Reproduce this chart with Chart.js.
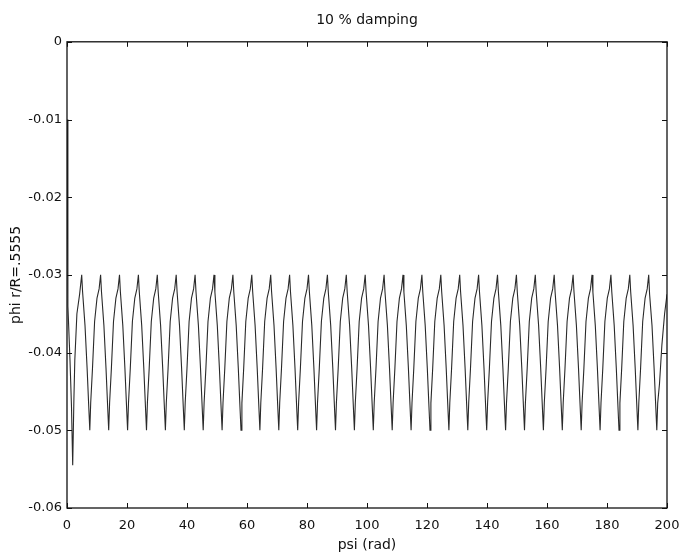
<!DOCTYPE html>
<html>
<head>
<meta charset="utf-8">
<script src="https://cdn.jsdelivr.net/npm/chart.js@4"></script>
<style>
  html, body { margin: 0; padding: 0; background: #fff; }
  canvas { display: block; }
</style>
</head>
<body>
<canvas id="chart" width="682" height="556"></canvas>
<script>
// 10 % damping: phi at r/R=.5555 against psi (rad)
// one row per cycle: peak, notch, fall, min spike, rise

const psi = [
  0, 0.3, 1.0, 1.5, 1.9, 2.3, 2.6, 3.3, 4.2,
  4.9, 5.2, 6.0, 6.7, 7.2, 7.6, 7.9, 8.5, 9.2, 10.0, 10.7,
  11.2, 11.5, 12.3, 13.0, 13.5, 13.9, 14.2, 14.8, 15.5, 16.3, 17.0,
  17.5, 17.8, 18.6, 19.3, 19.8, 20.2, 20.5, 21.1, 21.8, 22.6, 23.3,
  23.8, 24.1, 24.9, 25.6, 26.1, 26.5, 26.8, 27.4, 28.1, 28.9, 29.6,
  30.1, 30.4, 31.2, 31.9, 32.4, 32.8, 33.1, 33.7, 34.4, 35.2, 35.9,
  36.4, 36.7, 37.5, 38.2, 38.7, 39.1, 39.4, 40.0, 40.7, 41.5, 42.2,
  42.7, 43.0, 43.8, 44.5, 45.0, 45.4, 45.7, 46.3, 47.0, 47.8, 48.5,
  49.0, 49.3, 50.1, 50.8, 51.3, 51.7, 52.0, 52.6, 53.3, 54.1, 54.8,
  55.3, 55.6, 56.4, 57.1, 57.6, 58.0, 58.3, 58.9, 59.6, 60.4, 61.1,
  61.6, 61.9, 62.7, 63.4, 63.9, 64.3, 64.6, 65.2, 65.9, 66.7, 67.4,
  67.9, 68.2, 69.0, 69.7, 70.2, 70.6, 70.9, 71.5, 72.2, 73.0, 73.7,
  74.2, 74.5, 75.3, 76.0, 76.5, 76.9, 77.2, 77.8, 78.5, 79.3, 80.0,
  80.5, 80.8, 81.6, 82.3, 82.8, 83.2, 83.5, 84.1, 84.8, 85.6, 86.3,
  86.8, 87.1, 87.9, 88.6, 89.1, 89.5, 89.8, 90.4, 91.1, 91.9, 92.6,
  93.1, 93.4, 94.2, 94.9, 95.4, 95.8, 96.1, 96.7, 97.4, 98.2, 98.9,
  99.4, 99.7, 100.5, 101.2, 101.7, 102.1, 102.4, 103.0, 103.7, 104.5, 105.2,
  105.7, 106.0, 106.8, 107.5, 108.0, 108.4, 108.7, 109.3, 110.0, 110.8, 111.5,
  112.0, 112.3, 113.1, 113.8, 114.3, 114.7, 115.0, 115.6, 116.3, 117.1, 117.8,
  118.3, 118.6, 119.4, 120.1, 120.6, 121.0, 121.3, 121.9, 122.6, 123.4, 124.1,
  124.6, 124.9, 125.7, 126.4, 126.9, 127.3, 127.6, 128.2, 128.9, 129.7, 130.4,
  130.9, 131.2, 132.0, 132.7, 133.2, 133.6, 133.9, 134.5, 135.2, 136.0, 136.7,
  137.2, 137.5, 138.3, 139.0, 139.5, 139.9, 140.2, 140.8, 141.5, 142.3, 143.0,
  143.5, 143.8, 144.6, 145.3, 145.8, 146.2, 146.5, 147.1, 147.8, 148.6, 149.3,
  149.8, 150.1, 150.9, 151.6, 152.1, 152.5, 152.8, 153.4, 154.1, 154.9, 155.6,
  156.1, 156.4, 157.2, 157.9, 158.4, 158.8, 159.1, 159.7, 160.4, 161.2, 161.9,
  162.4, 162.7, 163.5, 164.2, 164.7, 165.1, 165.4, 166.0, 166.7, 167.5, 168.2,
  168.7, 169.0, 169.8, 170.5, 171.0, 171.4, 171.7, 172.3, 173.0, 173.8, 174.5,
  175.0, 175.3, 176.1, 176.8, 177.3, 177.7, 178.0, 178.6, 179.3, 180.1, 180.8,
  181.3, 181.6, 182.4, 183.1, 183.6, 184.0, 184.3, 184.9, 185.6, 186.4, 187.1,
  187.6, 187.9, 188.7, 189.4, 189.9, 190.3, 190.6, 191.2, 191.9, 192.7, 193.4,
  193.9, 194.2, 195.0, 195.7, 196.2, 196.6, 196.9, 197.5, 198.3, 199.2, 200.0
];

const phi = [
  -0.010, -0.034, -0.041, -0.047, -0.0545, -0.046, -0.041, -0.035, -0.0325,
  -0.030, -0.0322, -0.0365, -0.042, -0.0465, -0.050, -0.0465, -0.042, -0.036, -0.033, -0.0318,
  -0.030, -0.0322, -0.0365, -0.042, -0.0465, -0.050, -0.0465, -0.042, -0.036, -0.033, -0.0318,
  -0.030, -0.0322, -0.0365, -0.042, -0.0465, -0.050, -0.0465, -0.042, -0.036, -0.033, -0.0318,
  -0.030, -0.0322, -0.0365, -0.042, -0.0465, -0.050, -0.0465, -0.042, -0.036, -0.033, -0.0318,
  -0.030, -0.0322, -0.0365, -0.042, -0.0465, -0.050, -0.0465, -0.042, -0.036, -0.033, -0.0318,
  -0.030, -0.0322, -0.0365, -0.042, -0.0465, -0.050, -0.0465, -0.042, -0.036, -0.033, -0.0318,
  -0.030, -0.0322, -0.0365, -0.042, -0.0465, -0.050, -0.0465, -0.042, -0.036, -0.033, -0.0318,
  -0.030, -0.0322, -0.0365, -0.042, -0.0465, -0.050, -0.0465, -0.042, -0.036, -0.033, -0.0318,
  -0.030, -0.0322, -0.0365, -0.042, -0.0465, -0.050, -0.0465, -0.042, -0.036, -0.033, -0.0318,
  -0.030, -0.0322, -0.0365, -0.042, -0.0465, -0.050, -0.0465, -0.042, -0.036, -0.033, -0.0318,
  -0.030, -0.0322, -0.0365, -0.042, -0.0465, -0.050, -0.0465, -0.042, -0.036, -0.033, -0.0318,
  -0.030, -0.0322, -0.0365, -0.042, -0.0465, -0.050, -0.0465, -0.042, -0.036, -0.033, -0.0318,
  -0.030, -0.0322, -0.0365, -0.042, -0.0465, -0.050, -0.0465, -0.042, -0.036, -0.033, -0.0318,
  -0.030, -0.0322, -0.0365, -0.042, -0.0465, -0.050, -0.0465, -0.042, -0.036, -0.033, -0.0318,
  -0.030, -0.0322, -0.0365, -0.042, -0.0465, -0.050, -0.0465, -0.042, -0.036, -0.033, -0.0318,
  -0.030, -0.0322, -0.0365, -0.042, -0.0465, -0.050, -0.0465, -0.042, -0.036, -0.033, -0.0318,
  -0.030, -0.0322, -0.0365, -0.042, -0.0465, -0.050, -0.0465, -0.042, -0.036, -0.033, -0.0318,
  -0.030, -0.0322, -0.0365, -0.042, -0.0465, -0.050, -0.0465, -0.042, -0.036, -0.033, -0.0318,
  -0.030, -0.0322, -0.0365, -0.042, -0.0465, -0.050, -0.0465, -0.042, -0.036, -0.033, -0.0318,
  -0.030, -0.0322, -0.0365, -0.042, -0.0465, -0.050, -0.0465, -0.042, -0.036, -0.033, -0.0318,
  -0.030, -0.0322, -0.0365, -0.042, -0.0465, -0.050, -0.0465, -0.042, -0.036, -0.033, -0.0318,
  -0.030, -0.0322, -0.0365, -0.042, -0.0465, -0.050, -0.0465, -0.042, -0.036, -0.033, -0.0318,
  -0.030, -0.0322, -0.0365, -0.042, -0.0465, -0.050, -0.0465, -0.042, -0.036, -0.033, -0.0318,
  -0.030, -0.0322, -0.0365, -0.042, -0.0465, -0.050, -0.0465, -0.042, -0.036, -0.033, -0.0318,
  -0.030, -0.0322, -0.0365, -0.042, -0.0465, -0.050, -0.0465, -0.042, -0.036, -0.033, -0.0318,
  -0.030, -0.0322, -0.0365, -0.042, -0.0465, -0.050, -0.0465, -0.042, -0.036, -0.033, -0.0318,
  -0.030, -0.0322, -0.0365, -0.042, -0.0465, -0.050, -0.0465, -0.042, -0.036, -0.033, -0.0318,
  -0.030, -0.0322, -0.0365, -0.042, -0.0465, -0.050, -0.0465, -0.042, -0.036, -0.033, -0.0318,
  -0.030, -0.0322, -0.0365, -0.042, -0.0465, -0.050, -0.0465, -0.042, -0.036, -0.033, -0.0318,
  -0.030, -0.0322, -0.0365, -0.042, -0.0465, -0.050, -0.0465, -0.042, -0.036, -0.033, -0.0318,
  -0.030, -0.0325, -0.0365, -0.042, -0.0465, -0.050, -0.0465, -0.044, -0.039, -0.035, -0.0325
];

const xTicks = [0, 20, 40, 60, 80, 100, 120, 140, 160, 180, 200];
const yTicks = [0, -0.01, -0.02, -0.03, -0.04, -0.05, -0.06];
const yTickLabels = ['0', '-0.01', '-0.02', '-0.03', '-0.04', '-0.05', '-0.06'];

const FONT = "'DejaVu Sans', 'Liberation Sans', Arial, sans-serif";
const INK = '#111';

// matlab style box: full frame with inward ticks on all four sides
const boxFrame = {
    id: 'boxFrame',
    afterDraw(chart) {
        const { ctx, chartArea: a, scales } = chart;
        const len = 5;
        ctx.save();
        ctx.strokeStyle = INK;
        ctx.lineWidth = 1.3;
        ctx.strokeRect(a.left, a.top, a.right - a.left, a.bottom - a.top);
        ctx.lineWidth = 1;
        ctx.beginPath();
        xTicks.forEach(v => {
            const px = Math.round(scales.x.getPixelForValue(v)) + 0.5;
            ctx.moveTo(px, a.bottom); ctx.lineTo(px, a.bottom - len);
            ctx.moveTo(px, a.top); ctx.lineTo(px, a.top + len);
        });
        yTicks.forEach(v => {
            const py = Math.round(scales.y.getPixelForValue(v)) + 0.5;
            ctx.moveTo(a.left, py); ctx.lineTo(a.left + len, py);
            ctx.moveTo(a.right, py); ctx.lineTo(a.right - len, py);
        });
        ctx.stroke();
        ctx.restore();
    }
};

// keep the plot box where the reference has it, whatever the label overhang
const fixX = s => { s.height = 48; s.paddingLeft = 0; s.paddingRight = 0; };
const fixY = s => { s.width = 67; s.paddingTop = 0; s.paddingBottom = 0; };

new Chart(document.getElementById('chart'), {
    type: 'line',
    data: {
        datasets: [{
            data: psi.map((x, i) => ({ x: x, y: phi[i] })),
            borderColor: '#2a2a2a',
            borderWidth: 1.1,
            pointRadius: 0,
            tension: 0,
            fill: false
        }]
    },
    options: {
        responsive: false,
        animation: false,
        layout: { padding: { left: 0, right: 15, top: 0, bottom: 0 } },
        plugins: {
            legend: { display: false },
            tooltip: { enabled: false },
            title: {
                display: true,
                text: '10 % damping',
                fullSize: false,
                color: INK,
                font: { family: FONT, size: 14, weight: 'normal' },
                padding: { top: 12, bottom: 13 }
            }
        },
        scales: {
            x: {
                type: 'linear',
                min: 0,
                max: 200,
                afterFit: fixX,
                afterBuildTicks: s => { s.ticks = xTicks.map(v => ({ value: v })); },
                grid: { display: false, drawTicks: false },
                border: { display: false },
                ticks: {
                    color: INK,
                    font: { family: FONT, size: 13 },
                    padding: 10,
                    maxRotation: 0,
                    callback: v => String(v)
                },
                title: {
                    display: true,
                    text: 'psi (rad)',
                    color: INK,
                    font: { family: FONT, size: 14 },
                    padding: { top: 0, bottom: 2 }
                }
            },
            y: {
                type: 'linear',
                min: -0.06,
                max: 0,
                afterFit: fixY,
                afterBuildTicks: s => { s.ticks = yTicks.map(v => ({ value: v })); },
                grid: { display: false, drawTicks: false },
                border: { display: false },
                ticks: {
                    color: INK,
                    font: { family: FONT, size: 13 },
                    padding: 5,
                    callback: v => yTickLabels[yTicks.findIndex(t => Math.abs(t - v) < 1e-9)]
                },
                title: {
                    display: true,
                    text: 'phi r/R=.5555',
                    color: INK,
                    font: { family: FONT, size: 14 },
                    padding: { top: 8, bottom: 0 }
                }
            }
        }
    },
    plugins: [boxFrame]
});
</script>
</body>
</html>
